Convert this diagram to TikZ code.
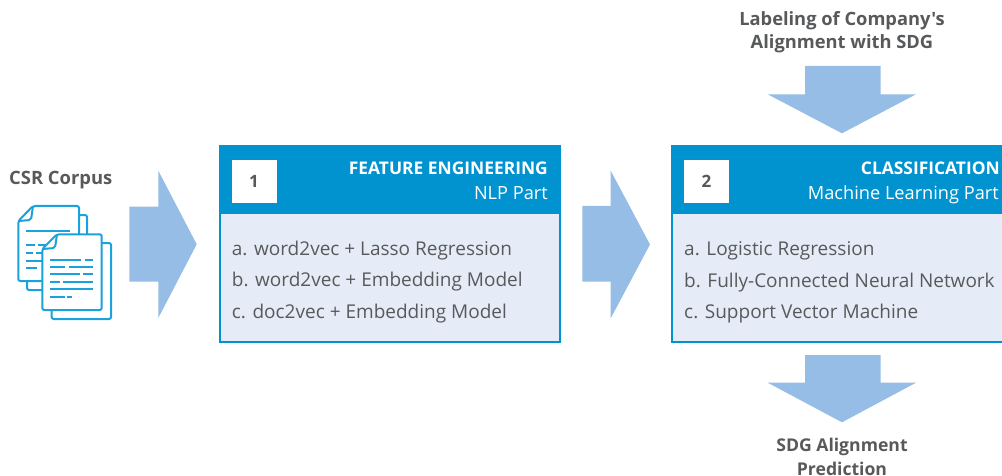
\documentclass[tikz,border=0pt]{standalone}
\usepackage{fontspec}
\setmainfont{Open Sans}
\newfontfamily\hfont{Open Sans}
\definecolor{hblue}{HTML}{0093D0}
\definecolor{bodyfill}{HTML}{E6ECF7}
\definecolor{arrowblue}{HTML}{95BDE5}
\definecolor{txtgray}{HTML}{58595B}
\definecolor{iconblue}{HTML}{1BA1DC}
\tikzset{
  boxbody/.style={draw=hblue, fill=bodyfill, line width=2pt, minimum width=340pt, minimum height=196pt, inner sep=0pt},
  boxhead/.style={fill=hblue, minimum width=342pt, minimum height=69pt, inner sep=0pt},
  numbox/.style={fill=white, minimum width=45pt, minimum height=43pt, inner sep=0pt, text=txtgray, font=\hfont\bfseries\fontsize{17}{20}\selectfont},
  headtxt/.style={text=white, inner sep=0pt, anchor=base east, font=\hfont\bfseries\fontsize{17.4}{21}\selectfont},
  subtxt/.style={text=white, inner sep=0pt, anchor=base east, font=\fontsize{18.2}{22}\selectfont},
  itemtxt/.style={text=txtgray, inner sep=0pt, anchor=base west, font=\fontsize{19}{22}\selectfont},
  labeltxt/.style={text=txtgray, inner sep=0pt, align=center, font=\hfont\bfseries\fontsize{17.6}{23.7}\selectfont},
  bigarrow/.style={fill=arrowblue},
  docline/.style={draw=iconblue, line width=2pt, rounded corners=2pt, line join=round},
  txtline/.style={draw=iconblue, line width=2pt}
}
\begin{document}
\begin{tikzpicture}[x=1pt,y=-1pt]
\useasboundingbox (0,0) rectangle (1002,476);
\clip (0,0) rectangle (1002,476);

% ---------- CSR corpus ----------
\node[labeltxt, anchor=base west, font=\hfont\bfseries\fontsize{18.4}{22}\selectfont] (csr) at (9,185) {CSR Corpus};

% document A
\draw[docline, fill=white] (79,215) -- (87,215) -- (87,290) -- (27,290) -- (27,281);
\draw[docline, fill=white] (33,206) -- (79,206) -- (79,281) -- (18.3,281) -- (18.3,221) -- cycle;
\draw[docline] (18.3,221) -- (31,220) -- (33,206);
\draw[txtline] (25.7,231) -- (70,231);
\draw[txtline] (25.7,245) -- (35,245) (38.3,245) -- (46,245);
\draw[txtline] (25.7,252.7) -- (33,252.7) (36,252.7) -- (44,252.7);
\draw[txtline] (25.7,260.7) -- (42,260.7);
\draw[txtline] (25.7,268.3) -- (37,268.3);
% document B
\draw[docline, fill=white] (102,243) -- (111,243) -- (111,319) -- (51.7,319) -- (51.7,310);
\draw[docline, fill=white] (57,234.3) -- (101.7,234.3) -- (101.7,310) -- (42.3,310) -- (42.3,249) -- cycle;
\draw[docline] (42.3,249) -- (55,248) -- (57,234.3);
\draw[txtline] (50,260) -- (81,260) (85,260) -- (93.3,260);
\draw[txtline] (50,266.7) -- (65,266.7) (69.3,266.7) -- (93.3,266.7);
\draw[txtline] (50,274) -- (80,274) (83.3,274) -- (93.3,274);
\draw[txtline] (50,281.7) -- (60,281.7) (63.3,281.7) -- (93.3,281.7);
\draw[txtline] (50,289) -- (93.3,289);
\draw[txtline] (50,296.7) -- (65,296.7) (67.3,296.7) -- (71.7,296.7);

% ---------- arrows ----------
\fill[bigarrow] (129.3,206.7) -- (158.3,206.7) -- (158.3,170.7) -- (196.7,244.3) -- (158.3,318) -- (158.3,281.7) -- (129.3,281.7) -- cycle;
\fill[bigarrow] (582.3,206) -- (610.7,206) -- (610.7,170.7) -- (650,244.5) -- (610.7,318.3) -- (610.7,281.7) -- (582.3,281.7) -- cycle;
\fill[bigarrow] (805,66) -- (880.7,66) -- (880.7,94.3) -- (916,94.3) -- (842,133.3) -- (767.7,94.3) -- (805,94.3) -- cycle;
\fill[bigarrow] (805,355) -- (880.7,355) -- (880.7,382.7) -- (916,382.7) -- (842,422.3) -- (767.7,382.7) -- (805,382.7) -- cycle;

% ---------- box 1 ----------
\node[boxbody] (b1) at (390,244) {};
\node[boxhead] (h1) at (390,179.5) {};
\node[numbox] (n1) at (254,181.3) {1};
\node[headtxt] (t1) at (548,175) {FEATURE ENGINEERING};
\node[subtxt] (s1) at (548,200) {NLP Part};
\node[itemtxt] (i1a) at (231.7,255) {a. word2vec + Lasso Regression};
\node[itemtxt] (i1b) at (231.7,286.7) {b. word2vec + Embedding Model};
\node[itemtxt] (i1c) at (231.7,318) {c. doc2vec + Embedding Model};

% ---------- box 2 ----------
\node[boxbody] (b2) at (842,244) {};
\node[boxhead] (h2) at (842,179.5) {};
\node[numbox] (n2) at (706.5,181.3) {2};
\node[headtxt] (t2) at (1000,175) {CLASSIFICATION};
\node[subtxt] (s2) at (999,200) {Machine Learning Part};
\node[itemtxt] (i2a) at (684,255) {a. Logistic Regression};
\node[itemtxt] (i2b) at (684,287.3) {b. Fully-Connected Neural Network};
\node[itemtxt] (i2c) at (684,318.3) {c. Support Vector Machine};

% ---------- labels ----------
\node[labeltxt, anchor=base, font=\hfont\bfseries\fontsize{18.3}{23.7}\selectfont] (lab) at (842,49) {Labeling of Company's\\Alignment with SDG};
\node[labeltxt, anchor=base] (pred) at (842,475) {SDG Alignment\\Prediction};
\end{tikzpicture}
\end{document}
